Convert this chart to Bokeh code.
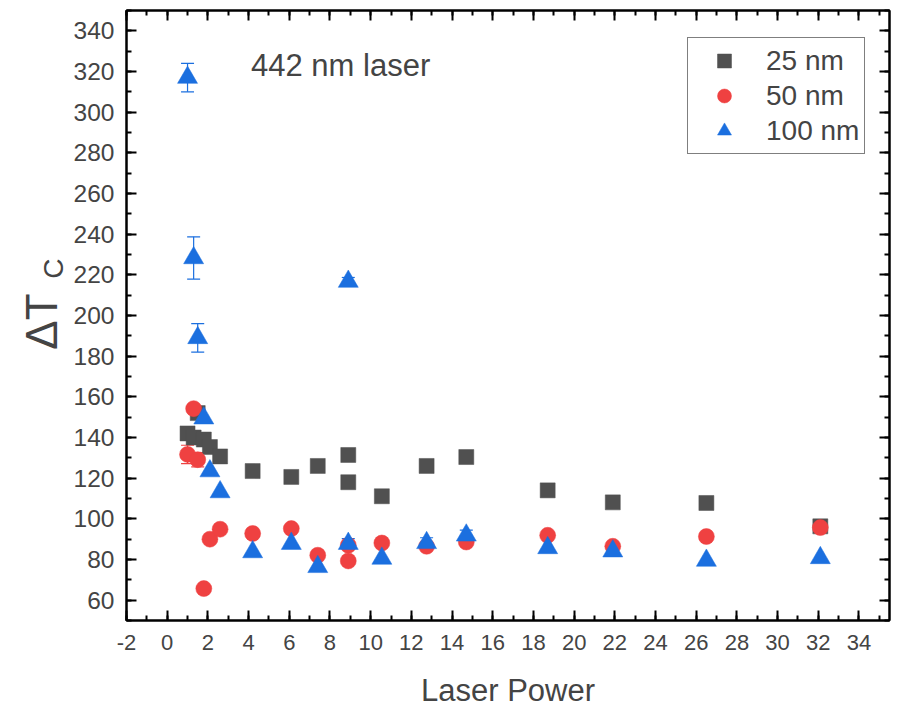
from bokeh.plotting import figure
from bokeh.layouts import row
from bokeh.models import (ColumnDataSource, SingleIntervalTicker, LinearAxis, Range1d,
                          Label, Legend, LegendItem, Whisker, TeeHead, CustomJSTickFormatter)
from bokeh.embed import file_html
from bokeh.resources import INLINE
import math

# ---- data ----
power = [1.0, 1.3, 1.5, 1.8, 2.1, 2.6, 4.2, 6.1, 7.4, 8.9, 8.9, 10.55, 12.75, 14.7, 18.7, 21.9, 26.5, 32.1]
dt_25 = [142, 140, 152, 139, 135.3, 130.7, 123.5, 120.6, 126, 131.4, 118, 111.1, 126, 130.4, 114, 108.1, 107.8, 96.3]
dt_50 = [131.7, 154.2, 129.1, 65.7, 90, 94.9, 92.8, 95.2, 82.1, 87, 79.3, 88.1, 86.5, 88.6, 91.9, 86.5, 91.3, 95.7]
dt_100 = [317, 228.3, 189, 149.5, 123.5, 113.2, 83.7, 87.8, 76.4, 87.8, 216.7, 80.5, 88.2, 91.9, 85.7, 84.1, 79.5, 80.8]
err_25 = [0, 2, 0, 0, 0, 0, 0, 0, 0, 0, 0, 0, 0, 0, 0, 0, 0, 0]
err_50 = [4.5, 2, 3.5, 0, 0, 0, 0, 0, 0, 0, 0, 0, 0, 0, 0, 0, 0, 2.5]
err_100 = [7, 10.4, 7, 0, 0, 0, 0, 0, 0, 2.5, 2, 0, 2.5, 2.5, 0, 2.5, 0, 0]
series_names = ["25 nm", "50 nm", "100 nm"]
x_ticks_range = (-2, 35.5)
y_ticks_range = (50, 350)
annotation = "442 nm laser"
x_title = "Laser Power"
y_title_main = "ΔT"
y_title_sub = "C"

colors = ["#505050", "#ef4141", "#1b6fdf"]
font = "Liberation Sans"
LEFT_W = 70
H = 710

yr = Range1d(*y_ticks_range)

# ---- narrow side panel holding the y-axis title (ΔT with subscript C) ----
side = figure(width=LEFT_W, height=H, output_backend="svg", toolbar_location=None,
              x_range=Range1d(0, LEFT_W), y_range=yr,
              x_axis_location=None, y_axis_location=None,
              min_border=0, min_border_left=0, min_border_right=0, min_border_top=10, min_border_bottom=90)
side.grid.visible = False
side.outline_line_color = None
side.background_fill_color = "white"
side.border_fill_color = "white"
side.add_layout(Label(x=41, y=197, text=y_title_main, angle=math.pi / 2,
                      text_font=font, text_font_size="44px", text_align="center", text_baseline="middle"))
side.add_layout(Label(x=53, y=223, text=y_title_sub, angle=math.pi / 2,
                      text_font=font, text_font_size="28px", text_align="center", text_baseline="middle"))

# ---- main plot ----
p = figure(width=899 - LEFT_W, height=H, output_backend="svg", toolbar_location=None,
           x_range=Range1d(*x_ticks_range), y_range=yr,
           min_border_left=126 - LEFT_W, min_border_right=10, min_border_top=10, min_border_bottom=90)
p.background_fill_color = "white"
p.border_fill_color = "white"
p.grid.visible = False
p.outline_line_color = "black"
p.outline_line_width = 2

def style_axis(ax, show_labels):
    ax.axis_line_color = "black"
    ax.axis_line_width = 2
    ax.major_tick_line_color = "black"
    ax.major_tick_line_width = 2
    ax.minor_tick_line_color = "black"
    ax.minor_tick_line_width = 2
    ax.major_tick_in = 10
    ax.major_tick_out = 0
    ax.minor_tick_in = 5
    ax.minor_tick_out = 0
    if show_labels:
        ax.formatter = CustomJSTickFormatter(code="return tick.toString();")
    else:
        ax.formatter = CustomJSTickFormatter(code="return '';")
        ax.major_label_standoff = 0

p.xaxis.ticker = SingleIntervalTicker(interval=2, num_minor_ticks=2)
p.yaxis.ticker = SingleIntervalTicker(interval=20, num_minor_ticks=2)
style_axis(p.xaxis[0], True)
style_axis(p.yaxis[0], True)
p.xaxis.major_label_text_font = font
p.xaxis.major_label_text_font_size = "22px"
p.xaxis.major_label_standoff = 14
p.xaxis.axis_label = x_title
p.xaxis.axis_label_text_font = font
p.xaxis.axis_label_text_font_style = "normal"
p.xaxis.axis_label_text_font_size = "31px"
p.xaxis.axis_label_standoff = 20
p.yaxis.major_label_text_font = font
p.yaxis.major_label_text_font_size = "24.5px"
p.yaxis.major_label_standoff = 12

top = LinearAxis(ticker=SingleIntervalTicker(interval=2, num_minor_ticks=2))
right = LinearAxis(ticker=SingleIntervalTicker(interval=20, num_minor_ticks=2))
style_axis(top, False)
style_axis(right, False)
p.add_layout(top, "above")
p.add_layout(right, "right")

renderers = []
errs = [err_25, err_50, err_100]
vals = [dt_25, dt_50, dt_100]
markers = ["square", "circle", "triangle"]
sizes = [15, 16, 20]
for name, v, e, m, s, c in zip(series_names, vals, errs, markers, sizes, colors):
    src = ColumnDataSource(dict(x=power, y=v))
    r = p.scatter("x", "y", source=src, marker=m, size=s, fill_color=c, line_color=c, line_width=0.5)
    renderers.append(r)
    idx = [i for i in range(len(e)) if e[i] > 0]
    esrc = ColumnDataSource(dict(x=[power[i] for i in idx],
                                 lo=[v[i] - e[i] for i in idx],
                                 hi=[v[i] + e[i] for i in idx]))
    w = Whisker(source=esrc, base="x", lower="lo", upper="hi", dimension="height",
                line_color=c, line_width=1.2,
                upper_head=TeeHead(size=13, line_color=c, line_width=1.2),
                lower_head=TeeHead(size=13, line_color=c, line_width=1.2))
    p.add_layout(w)

legend = Legend(items=[LegendItem(label=n, renderers=[r]) for n, r in zip(series_names, renderers)],
                location=(561, 466), label_text_font=font, label_text_font_size="28px",
                glyph_width=62, glyph_height=35, label_height=35, spacing=0, padding=5,
                label_standoff=11, border_line_color="black", border_line_width=1.2,
                background_fill_alpha=1, margin=0)
p.add_layout(legend)

p.add_layout(Label(x=4.12, y=323, text=annotation, text_font=font, text_font_size="31px",
                   text_align="left", text_baseline="middle"))

layout = row(side, p, spacing=0)
open("out.html", "w").write(file_html(layout, INLINE))
